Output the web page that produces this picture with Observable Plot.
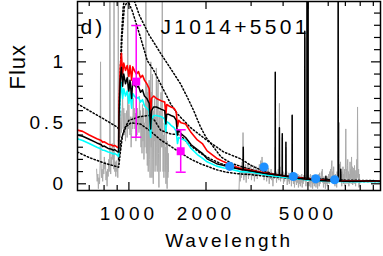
<!DOCTYPE html>
<html><head><meta charset="utf-8">
<script src="https://cdn.jsdelivr.net/npm/d3@7"></script>
<script src="https://cdn.jsdelivr.net/npm/@observablehq/plot@0.6"></script>
<style>body{margin:0;background:#fff}svg{display:block}</style>
</head><body><div id="chart"></div>
<script>
// ---- data (rest-frame wavelength, flux) ----
const xDomain = [630, 9600];
const yDomain = [-0.055, 1.495];
const xMajorTicks = [1000, 2000, 5000];
const xMinorTicks = [700, 800, 900, 3000, 4000, 6000, 7000, 8000, 9000];
const yMajorTicks = [0, 0.5, 1];
const yMinorTicks = [0.1, 0.2, 0.3, 0.4, 0.6, 0.7, 0.8, 0.9, 1.1, 1.2, 1.3, 1.4];
const xLabel = "Wavelength";
const yLabel = "Flux";
const title = "J1014+5501";
const panel = "d)";

const greyUV = [[748,0.12],[752,0.02],[756,0.08],[760,-0.04],[764,0.05],[768,0.0],[772,0.15],[775,1.0],[778,0.2],[782,0.05],[786,0.12],[790,0.02],[794,0.16],[798,0.08],[802,0.22],[806,0.12],[810,0.18],[814,0.03],[818,0.10],[822,-0.02],[826,0.12],[830,0.06],[834,0.20],[838,0.10],[842,0.25],[843,1.7],[845,0.2],[849,0.08],[853,0.22],[857,0.15],[861,0.33],[865,0.20],[869,0.28],[873,0.12],[875,1.7],[877,0.2],[881,0.10],[885,0.18],[889,0.06],[893,0.19],[897,0.10],[901,0.15],[905,0.05],[908,0.2],[909,1.7],[910,0.25],[912,0.15],
[915,0.3],[920,0.45],[925,0.38],[930,0.6],[935,0.42],[940,0.55],[945,0.70],[950,0.45],[955,0.62],[960,0.40],[965,0.58],[970,0.35],[975,0.52],[980,0.60],[985,0.38],[989,0.5],[990,1.7],[991,0.5],[995,0.45],[1000,0.65],[1005,0.48],[1010,0.40],[1015,0.55],[1020,0.30],[1025,0.42],[1030,0.55],[1035,0.45],[1040,0.70],[1045,0.50],[1050,0.62],[1055,0.45],[1060,0.58],[1065,0.35],[1070,0.52],[1075,0.40],[1080,0.62],[1085,0.48],[1090,0.55],[1095,0.42],[1100,0.72],
[1105,0.45],[1110,0.60],[1115,0.30],[1120,0.55],[1125,0.25],[1130,0.65],[1135,0.35],[1140,0.62],[1145,0.20],[1150,0.50],[1155,0.30],[1160,0.70],[1163,0.5],[1165,1.7],[1167,0.5],[1170,0.25],[1175,0.80],[1180,0.15],[1185,0.75],[1190,0.10],[1195,0.65],[1200,0.85],[1205,0.20],[1210,0.05],[1214,0.60],[1218,1.0],[1222,0.30],[1226,0.75],[1230,0.05],[1235,0.90],[1240,0.20],[1245,0.00],[1250,0.60],[1255,0.35],[1260,0.70],[1265,0.10],[1270,0.55],[1275,0.15],[1280,0.95],[1285,0.30],[1290,0.10],[1295,0.70],[1300,0.85],[1305,0.25],[1310,-0.03],[1315,0.45],[1320,0.60],[1325,0.10],[1330,0.40],[1335,0.75],[1340,0.30],[1345,0.55],[1348,0.4],[1350,1.7],[1352,0.3],[1356,0.50],[1360,0.10],[1365,0.40],[1370,0.05],[1375,0.35],[1380,0.55],[1385,0.10],[1390,0.30],[1395,0.00],[1400,0.45],[1405,0.15],[1410,-0.04],[1415,0.35],[1420,0.05],[1425,0.25],[1428,0.10]];

const greyOpt = [[2690,-0.06],[2705,0.10],[2720,0.02],[2735,0.15],[2750,0.05],[2765,0.18],[2780,0.08],[2790,0.42],[2798,0.12],[2810,0.03],[2825,0.14],[2840,0.06],[2855,0.16],[2870,0.01],[2885,0.13],[2900,0.07],[2915,0.17],[2930,0.04],[2950,0.14],[2970,0.08],[2990,0.16],[3010,0.03],[3030,0.12],[3050,0.07],[3070,0.15],[3090,0.02],[3110,0.12],[3130,0.06],[3150,0.14],[3170,0.04],[3190,0.11],[3210,0.07],[3230,0.16],[3250,0.09],[3270,0.19],[3290,0.12],[3310,0.22],[3330,0.08],[3350,0.15],[3370,0.03],[3390,0.12],[3410,0.06],[3430,0.14],[3450,0.02],[3470,0.11],[3490,0.05],[3510,0.13],[3530,0.00],[3550,0.10],[3570,0.04],[3590,0.12],[3610,0.03],[3630,0.09],[3650,-0.02],[3670,0.08],[3690,0.04],[3710,0.11],[3722,0.06],[3727,0.30],[3733,0.05],[3750,0.10],[3770,0.01],[3790,0.09],[3810,0.04],[3830,0.12],[3850,0.03],[3862,0.10],[3869,0.66],[3876,0.08],[3890,0.14],[3910,0.02],[3930,0.09],[3950,0.05],[3963,0.10],[3970,0.38],[3977,0.06],[3995,0.10],[4015,0.00],[4035,0.08],[4055,0.02],[4075,0.09],[4095,0.04],[4102,0.30],[4110,0.05],[4130,0.10],[4150,-0.01],[4170,0.07],[4190,0.02],[4210,0.09],[4230,0.00],[4250,0.07],[4270,0.03],[4290,0.09],[4310,-0.02],[4330,0.06],[4340,0.57],[4350,0.04],[4370,0.09],[4390,0.00],[4410,0.07],[4430,-0.03],[4450,0.06],[4470,0.02],[4490,0.08],[4510,-0.01],[4530,0.06],[4550,0.01],[4570,0.08],[4590,-0.03],[4610,0.05],[4630,0.00],[4650,0.07],[4670,-0.02],[4690,0.06],[4710,0.01],[4730,0.08],[4750,-0.03],[4770,0.05],[4790,0.00],[4810,0.07],[4830,0.02],[4850,0.06],[4861,1.2],[4872,0.03],[4890,0.07],[4910,-0.02],[4930,0.05],[4950,0.08],[4959,1.6],[4968,0.04],[4985,0.07],[5000,0.08],[5007,1.6],[5015,0.03],[5035,0.07],[5055,-0.02],[5075,0.05],[5095,0.00],[5115,0.08],[5135,-0.03],[5155,0.04],[5175,0.01],[5195,0.07],[5215,-0.04],[5235,0.05],[5255,0.00],[5275,0.06],[5295,-0.02],[5315,0.04],[5335,0.01],[5355,0.07],[5375,-0.03],[5395,0.05],[5415,0.00],[5435,0.06],[5455,-0.04],[5475,0.04],[5495,0.01],[5515,0.08],[5535,-0.02],[5555,0.09],[5575,0.00],[5600,0.06],[5625,0.02],[5650,0.10],[5670,0.04],[5690,0.12],[5710,0.01],[5730,0.06],[5750,-0.03],[5775,0.05],[5800,0.00],[5825,0.06],[5850,-0.04],[5875,0.07],[5900,0.00],[5925,0.05],[5950,-0.02],[5975,0.06],[6000,0.01],[6025,0.08],[6050,0.00],[6075,0.10],[6100,0.03],[6125,0.12],[6150,0.02],[6175,0.14],[6200,0.19],[6225,0.05],[6250,0.10],[6275,0.01],[6300,0.14],[6325,0.03],[6350,0.07],[6375,-0.02],[6400,0.08],[6425,0.00],[6450,0.06],[6475,-0.03],[6500,0.10],[6530,0.02],[6555,0.12],[6563,1.6],[6572,0.20],[6600,0.05],[6625,0.16],[6650,0.02],[6675,0.12],[6700,0.18],[6725,0.03],[6750,0.08],[6775,-0.02],[6800,0.10],[6825,0.02],[6850,0.14],[6875,0.00],[6900,0.08],[6925,0.03],[6950,0.12],[6975,-0.02],[7000,0.10],[7028,0.45],[7055,0.05],[7080,0.12],[7105,0.00],[7130,0.15],[7150,0.20],[7175,0.02],[7200,0.10],[7225,-0.02],[7250,0.08],[7275,0.01],[7300,0.18],[7325,0.04],[7350,0.12],[7375,0.00],[7400,0.22],[7425,0.05],[7450,0.14],[7475,-0.01],[7500,0.10],[7525,0.03],[7550,0.13],[7575,0.00],[7600,0.15],[7625,0.02],[7650,0.11],[7675,-0.02],[7700,0.07],[7725,0.03],[7760,0.20],[7785,0.05],[7810,0.63],[7835,0.10],[7860,0.02],[7885,0.12],[7910,-0.03],[7940,0.08],[7970,-0.02]];

const modelBlack = [[630,0.40],[660,0.39],[700,0.365],[750,0.335],[780,0.32],[790,0.305],[800,0.31],[830,0.29],[850,0.285],[870,0.275],[880,0.28],[900,0.265],[912,0.26],[915,0.55],[925,0.85],[935,0.955],[945,0.80],[955,0.90],[970,0.82],[985,0.87],[1000,0.76],[1010,0.85],[1025,0.70],[1035,0.84],[1050,0.81],[1070,0.79],[1090,0.80],[1110,0.75],[1130,0.77],[1150,0.72],[1175,0.70],[1200,0.66],[1210,0.52],[1216,0.45],[1225,0.60],[1250,0.63],[1280,0.63],[1340,0.61],[1380,0.60],[1394,0.49],[1405,0.57],[1430,0.57],[1460,0.56],[1500,0.55],[1530,0.52],[1548,0.40],[1565,0.44],[1600,0.41],[1665,0.38],[1750,0.32],[1850,0.28],[1935,0.25],[2020,0.205],[2200,0.165],[2350,0.15],[2500,0.135],[2730,0.12],[2793,0.115],[2796,0.30],[2799,0.115],[3000,0.105],[3360,0.087],[3600,0.078],[3724,0.075],[3727,0.915],[3730,0.075],[3866,0.07],[3869,0.46],[3872,0.07],[3967,0.067],[3970,0.41],[3973,0.067],[4099,0.062],[4102,0.34],[4105,0.062],[4337,0.055],[4340,0.56],[4343,0.055],[4550,0.045],[4858,0.04],[4861,1.25],[4864,0.04],[4956,0.038],[4959,1.6],[4962,0.038],[5004,0.037],[5007,1.6],[5010,0.037],[5450,0.026],[5873,0.024],[5876,0.06],[5879,0.024],[6300,0.022],[6560,0.022],[6563,1.6],[6566,0.022],[6581,0.022],[6584,0.5],[6587,0.022],[6714,0.022],[6717,0.12],[6720,0.022],[7000,0.02],[8000,0.02],[9000,0.025],[9600,0.02]];

const modelRed = [[630,0.44],[660,0.43],[700,0.40],[750,0.37],[780,0.355],[790,0.34],[800,0.345],[830,0.325],[850,0.32],[870,0.31],[880,0.315],[900,0.30],[912,0.295],[915,0.65],[925,0.95],[935,1.07],[945,0.90],[955,0.99],[970,0.93],[985,0.97],[1000,0.88],[1010,0.97],[1025,0.85],[1035,0.96],[1050,0.93],[1070,0.90],[1090,0.92],[1110,0.87],[1130,0.89],[1150,0.85],[1175,0.82],[1200,0.78],[1210,0.62],[1216,0.55],[1225,0.70],[1250,0.72],[1280,0.70],[1340,0.68],[1380,0.67],[1394,0.56],[1405,0.65],[1430,0.64],[1460,0.63],[1500,0.62],[1530,0.59],[1548,0.47],[1565,0.52],[1600,0.50],[1665,0.49],[1750,0.42],[1850,0.36],[1935,0.33],[2020,0.27],[2200,0.21],[2350,0.18],[2500,0.155],[2730,0.125],[3000,0.11],[3500,0.085],[4000,0.065],[5000,0.038],[6000,0.025],[8000,0.022],[9600,0.022]];

const modelCyan = [[630,0.37],[660,0.355],[700,0.33],[750,0.30],[780,0.285],[790,0.275],[800,0.275],[830,0.26],[850,0.255],[870,0.245],[880,0.25],[900,0.235],[912,0.225],[915,0.48],[925,0.72],[935,0.83],[945,0.70],[955,0.78],[970,0.72],[985,0.76],[1000,0.66],[1010,0.75],[1025,0.62],[1035,0.74],[1050,0.72],[1070,0.70],[1090,0.71],[1110,0.67],[1130,0.69],[1150,0.64],[1175,0.62],[1200,0.60],[1210,0.44],[1216,0.38],[1225,0.53],[1250,0.56],[1280,0.56],[1340,0.55],[1380,0.53],[1394,0.43],[1405,0.51],[1430,0.50],[1460,0.48],[1500,0.46],[1530,0.43],[1548,0.33],[1565,0.38],[1600,0.37],[1665,0.355],[1750,0.29],[1850,0.24],[1935,0.21],[2020,0.18],[2200,0.145],[2350,0.13],[2500,0.12],[2730,0.10],[3000,0.095],[3500,0.07],[4000,0.055],[5000,0.032],[6000,0.02],[8000,0.018],[9600,0.018]];

const templateA = [[630,0.656],[700,0.60],[800,0.53],[900,0.465],[912,0.45],[920,0.75],[935,1.2],[950,1.45],[975,1.6],[1000,1.6],[1050,1.5],[1100,1.38],[1200,1.22],[1330,1.07],[1450,0.95],[1590,0.82],[1700,0.70],[1790,0.60],[1900,0.47],[2000,0.38],[2090,0.33],[2290,0.22],[2500,0.17],[2800,0.135],[3200,0.10],[3600,0.082],[4000,0.065],[5000,0.045],[7000,0.03],[9600,0.025]];
const templateB = [[912,0.35],[925,0.8],[940,1.2],[960,1.45],[990,1.5],[1030,1.42],[1110,1.2],[1180,1.01],[1250,0.93],[1370,0.765],[1455,0.656],[1545,0.574],[1742,0.46],[2020,0.355],[2350,0.26],[2730,0.205],[3000,0.15],[3300,0.11],[3600,0.085],[4000,0.068],[5000,0.042],[7000,0.025],[9600,0.022]];
const templateC = [[630,0.26],[700,0.215],[800,0.17],[900,0.14],[912,0.135],[925,0.25],[945,0.40],[975,0.47],[1020,0.50],[1110,0.49],[1200,0.44],[1330,0.36],[1450,0.31],[1600,0.25],[1750,0.20],[1900,0.165],[2200,0.115],[2400,0.095],[2730,0.08],[3000,0.075],[3500,0.06],[4000,0.05],[5000,0.033],[7000,0.02],[9600,0.018]];
const templateD = [[912,0.20],[930,0.35],[960,0.45],[1000,0.52],[1100,0.55],[1200,0.56],[1260,0.52],[1330,0.44],[1450,0.41],[1590,0.40],[1700,0.33],[1905,0.25],[2100,0.20],[2290,0.165],[2600,0.13],[3000,0.10],[3500,0.08],[4000,0.065],[5000,0.04],[7000,0.025],[9600,0.02]];

// GALEX points: wavelength, flux, low, high
const galexWave = [1068, 1593];
const galexFlux = [0.838, 0.267];
const galexLow = [0.382, 0.095];
const galexHigh = [1.298, 0.443];
// SDSS points
const sdssWave = [2475, 3370, 4384, 5362, 6357];
const sdssFlux = [0.143, 0.137, 0.06, 0.041, 0.033];

// ---- build ----
const toObj = a => a.map(([w, f]) => ({w, f}));
const line = (data, opts) => Plot.line(toObj(data), {x: "w", y: "f", clip: true, ...opts});
const galex = galexWave.map((w, i) => ({w, f: galexFlux[i], lo: galexLow[i], hi: galexHigh[i]}));
const galexCaps = galex.flatMap(d => [{w: d.w, f: d.lo}, {w: d.w, f: d.hi}]);
const sdss = sdssWave.map((w, i) => ({w, f: sdssFlux[i]}));
const capSymbol = {draw(ctx, size) { const r = Math.sqrt(size / Math.PI); ctx.moveTo(-r, 0); ctx.lineTo(r, 0); }};

const ML = 77, MR = 3, MT = 1, MB = 66, W = 383, H = 256;
const FW = W - ML - MR, FH = H - MT - MB;
const dotted = {stroke: "#000", strokeWidth: 1.5, strokeDasharray: "1.4,2.2"};
const tk = {stroke: "#000", strokeWidth: 1.2};

const chart = Plot.plot({
  width: W, height: H, marginLeft: ML, marginRight: MR, marginTop: MT, marginBottom: MB,
  x: {type: "log", domain: xDomain, axis: null},
  y: {domain: yDomain, axis: null},
  style: {fontFamily: "'Liberation Sans', Arial, sans-serif", fontSize: "19px", color: "#000", background: "#fff"},
  marks: [
    line(greyUV, {stroke: "#aaaaaa", strokeWidth: 1}),
    line(greyOpt, {stroke: "#aaaaaa", strokeWidth: 1}),
    line(templateA, dotted),
    line(templateB, dotted),
    line(templateC, dotted),
    line(templateD, dotted),
    line(modelCyan, {stroke: "#00ffff", strokeWidth: 1.6}),
    line(modelRed, {stroke: "#ff0000", strokeWidth: 1.6}),
    line(modelBlack, {stroke: "#000", strokeWidth: 1.5}),
    Plot.ruleX(galex, {x: "w", y1: "lo", y2: "hi", stroke: "#ff00ff", strokeWidth: 1.5}),
    Plot.dot(galexCaps, {x: "w", y: "f", symbol: capSymbol, r: 5, stroke: "#ff00ff", strokeWidth: 1.5}),
    Plot.dot(galex, {x: "w", y: "f", symbol: "square", r: 4.5, fill: "#ff00ff"}),
    Plot.dot(sdss, {x: "w", y: "f", r: 4.6, fill: "#1e90ff"}),
    Plot.frame({stroke: "#000", strokeWidth: 1.5}),
    Plot.ruleX(xMajorTicks, {...tk, insetTop: FH - 8}),
    Plot.ruleX(xMinorTicks, {...tk, insetTop: FH - 5}),
    Plot.ruleX(xMajorTicks, {...tk, insetBottom: FH - 8}),
    Plot.ruleX(xMinorTicks, {...tk, insetBottom: FH - 5}),
    Plot.ruleY(yMajorTicks, {...tk, insetRight: FW - 9}),
    Plot.ruleY(yMinorTicks, {...tk, insetRight: FW - 6}),
    Plot.ruleY(yMajorTicks, {...tk, insetLeft: FW - 9}),
    Plot.ruleY(yMinorTicks, {...tk, insetLeft: FW - 6}),
    Plot.text(xMajorTicks, {x: d => d, frameAnchor: "bottom", dy: 16, lineAnchor: "top", text: d => String(d)}),
    Plot.text(yMajorTicks, {y: d => d, frameAnchor: "left", dx: -11, textAnchor: "end", lineAnchor: "middle", text: d => String(d)}),
    Plot.text([xLabel], {frameAnchor: "bottom", dy: 50.5, lineAnchor: "middle"}),
    Plot.text([yLabel], {frameAnchor: "left", dx: -60, dy: -6.5, rotate: -90, lineAnchor: "middle", fontSize: 22}),
    Plot.text([panel], {frameAnchor: "top-left", dx: 3, dy: 26, textAnchor: "start", lineAnchor: "middle", fontSize: 21}),
    Plot.text([title], {frameAnchor: "top-left", dx: 83, dy: 26, textAnchor: "start", lineAnchor: "middle", fontSize: 21})
  ]
});
chart.querySelectorAll("text").forEach(t => {
  const s = t.textContent;
  if (s === xLabel) t.style.letterSpacing = "2.8px";
  else if (s === yLabel) t.style.letterSpacing = "1px";
  else if (s === title) t.style.letterSpacing = "3.3px";
  else if (s === panel) t.style.letterSpacing = "3px";
  else if (s.length === 4) t.style.letterSpacing = "4px";
  else t.style.letterSpacing = "3.5px";
});
document.getElementById("chart").appendChild(chart);
</script>
</body></html>
